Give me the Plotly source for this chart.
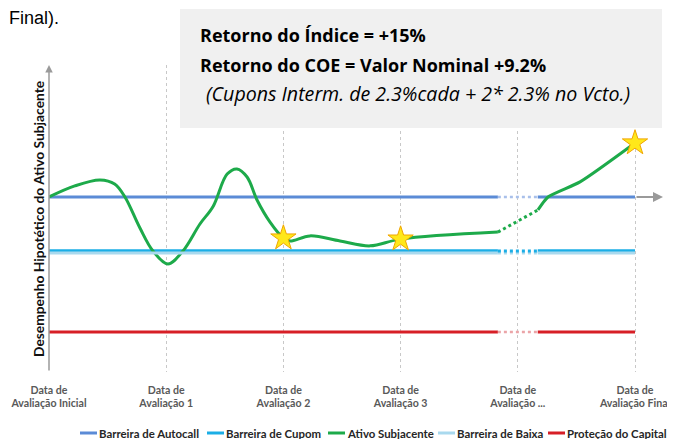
import plotly.graph_objects as go

# ---------------- data ----------------
dates = ["Data de<br>Avaliação Inicial", "Data de<br>Avaliação 1", "Data de<br>Avaliação 2",
         "Data de<br>Avaliação 3", "Data de<br>Avaliação ...", "Data de<br>Avaliação Final"]
date_pos = [0, 1, 2, 3, 4, 5]

series_names = ["Barreira de Autocall", "Barreira de Cupom", "Ativo Subjacente",
                "Barreira de Baixa", "Proteção do Capital"]

autocall_level = 100
cupom_level = 80
baixa_level = 79.3
protecao_level = 50

gap_start = 3.83
gap_end = 4.17
line_end = 5

# Ativo Subjacente (hypothetical path)
ativo_x = [0, 0.22, 0.435, 0.56, 0.648, 0.776, 0.887, 1.015, 1.143, 1.288, 1.40, 1.52,
           1.604, 1.69, 1.775, 1.886, 2.0, 2.056, 2.227, 2.483, 2.739, 3.0, 3.83]
ativo_y = [100, 104.1, 106.3, 104.8, 100, 88.5, 80, 75.2, 80, 90, 96.5, 108.5,
           110.4, 107.4, 98.9, 90.7, 84.8, 83.7, 85.6, 83.7, 81.9, 84.4, 87.0]
ativo_gap_x = [3.83, 4.172]
ativo_gap_y = [87.0, 95.2]
ativo_end_x = [4.172, 4.258, 4.531, 5.0]
ativo_end_y = [95.2, 100, 105.6, 120]

star_x = [2, 3, 5]
star_y = [84.8, 84.4, 120]

# ---------------- figure geometry ----------------
OFF = 8  # page body margin
W, H = 675 - OFF, 439 - OFF
L, R, T, B = 49 - OFF, 12, 65 - OFF, 67
pw, ph = W - L - R, H - T - B
x_range = [0, 614 / 117.2]
y_range = [100 - (372 - 197) / 2.7, 100 + (197 - 65) / 2.7]


def px(xp):
    return (xp - OFF - L) / pw


def py(yp):
    return (H - B - (yp - OFF)) / ph


fig = go.Figure()

C_AUTO = "#5B8BD6"
C_CUP = "#1BAEE6"
C_ATIVO = "#1DAA4A"
C_BAIXA = "#A9D9EE"
C_PROT = "#D71F26"
colors = [C_AUTO, C_CUP, C_ATIVO, C_BAIXA, C_PROT]


def seg(level):
    return [0, gap_start, None, gap_end, line_end], [level, level, None, level, level]


levels = [autocall_level, cupom_level, None, baixa_level, protecao_level]
widths = [3, 3.5, 3, 3, 3]
for name, lvl, col, w in zip(series_names, levels, colors, widths):
    if lvl is None:
        fig.add_trace(go.Scatter(x=ativo_x, y=ativo_y, mode="lines", name=name,
                                 line=dict(color=col, width=w, shape="spline", smoothing=1.0)))
        continue
    xs, ys = seg(lvl)
    fig.add_trace(go.Scatter(x=xs, y=ys, mode="lines", name=name,
                             line=dict(color=col, width=w)))

# dotted gap parts
for lvl, col, w in [(autocall_level, "#A9C0EA", 2.5), (baixa_level, C_BAIXA, 3),
                    (cupom_level, C_CUP, 3), (protecao_level, "#EBA5A8", 2.5)]:
    fig.add_trace(go.Scatter(x=[gap_start, gap_end], y=[lvl, lvl], mode="lines",
                             showlegend=False, line=dict(color=col, width=w, dash="dot")))

fig.add_trace(go.Scatter(x=ativo_gap_x, y=ativo_gap_y, mode="lines", showlegend=False,
                         line=dict(color=C_ATIVO, width=3, dash="dot")))
fig.add_trace(go.Scatter(x=ativo_end_x, y=ativo_end_y, mode="lines", showlegend=False,
                         line=dict(color=C_ATIVO, width=3, shape="spline", smoothing=0.6)))
fig.add_trace(go.Scatter(x=star_x, y=star_y, mode="markers", showlegend=False,
                         marker=dict(symbol="star", size=19, color="#FFE81A",
                                     line=dict(color="#F0A500", width=1))))

# axes arrows
fig.add_annotation(x=x_range[1], y=autocall_level, ax=line_end, ay=autocall_level,
                   xref="x", yref="y", axref="x", ayref="y", text="", showarrow=True,
                   arrowhead=2, arrowsize=1, arrowwidth=2, arrowcolor="#9A9A9A")
fig.add_annotation(x=0, y=y_range[1], ax=0, ay=y_range[0],
                   xref="x", yref="y", axref="x", ayref="y", text="", showarrow=True,
                   arrowhead=2, arrowsize=1, arrowwidth=1.5, arrowcolor="#9A9A9A")

# text box
fig.add_shape(type="rect", xref="paper", yref="paper", x0=px(180), x1=px(662),
              y0=py(128), y1=py(9), fillcolor="#F0F0F0", line=dict(width=0), layer="above")
BOXFONT = "Open Sans"
fig.add_annotation(xref="paper", yref="paper", x=px(198), y=py(35), xanchor="left",
                   yanchor="middle", showarrow=False,
                   text="<b>Retorno do Índice = +15%</b>",
                   font=dict(family=BOXFONT, size=18, color="#000000"))
fig.add_annotation(xref="paper", yref="paper", x=px(198), y=py(65), xanchor="left",
                   yanchor="middle", showarrow=False,
                   text="<b>Retorno do COE = Valor Nominal +9.2%</b>",
                   font=dict(family=BOXFONT, size=18, color="#000000"))
fig.add_annotation(xref="paper", yref="paper", x=px(204), y=py(93), xanchor="left",
                   yanchor="middle", showarrow=False,
                   text="<i>(Cupons Interm. de 2.3%cada + 2* 2.3% no Vcto.)</i>",
                   font=dict(family=BOXFONT, size=19.6, color="#000000"))

# text fragment at top-left
fig.add_annotation(xref="paper", yref="paper", x=px(7), y=py(18), xanchor="left",
                   yanchor="middle", showarrow=False, text="Final).",
                   font=dict(family="Liberation Sans", size=18, color="#000000"))

# y title
fig.add_annotation(xref="paper", yref="paper", x=px(38), y=py(219), xanchor="center",
                   yanchor="middle", showarrow=False, textangle=-90,
                   text="<b>Desempenho Hipotético do Ativo Subjacente</b>",
                   font=dict(family="Lato", size=13.8, color="#111111"))

# legend (drawn as line samples + labels, laid out like the original)
leg_line_x = [80, 207, 328, 438, 548]
leg_y = 433
for name, col, lx in zip(series_names, colors, leg_line_x):
    fig.add_shape(type="line", xref="paper", yref="paper", x0=px(lx), x1=px(lx + 17),
                  y0=py(leg_y), y1=py(leg_y), line=dict(color=col, width=3))
    fig.add_annotation(xref="paper", yref="paper", x=px(lx + 17), y=py(leg_y),
                       xanchor="left", yanchor="middle", showarrow=False,
                       text="<b>" + name + "</b>",
                       font=dict(family="Lato", size=11.4, color="#262626"))

fig.update_layout(
    width=W, height=H,
    margin=dict(l=L, r=R, t=T, b=B, autoexpand=False),
    paper_bgcolor="white", plot_bgcolor="white",
    showlegend=False,
    xaxis=dict(range=x_range, tickvals=date_pos, ticktext=["<b>" + d + "</b>" for d in dates],
               showgrid=True, gridcolor="#C8C8C8", griddash="dot", gridwidth=1,
               zeroline=False, showline=False, ticks="", fixedrange=True, automargin=False,
               ticklabelstandoff=10,
               tickfont=dict(family="Lato", size=10.6, color="#595959")),
    yaxis=dict(range=y_range, showgrid=False, zeroline=False, showline=False,
               showticklabels=False, ticks="", fixedrange=True, automargin=False),
)

fig.write_html("out.html")
